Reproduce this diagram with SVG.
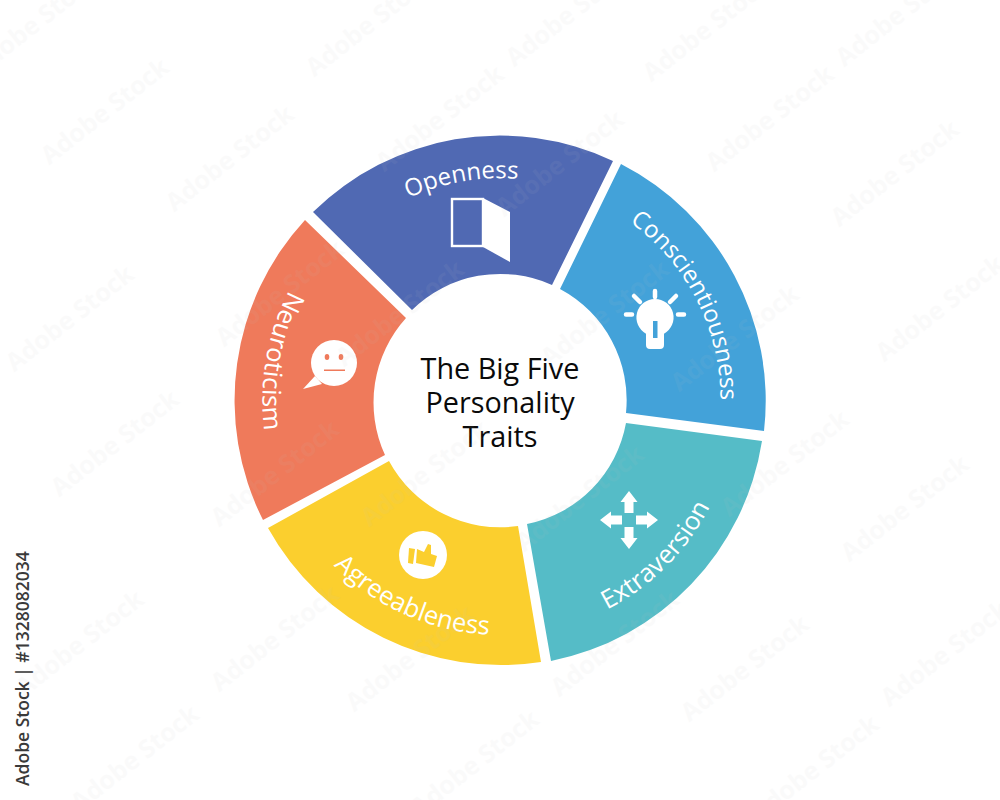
<svg xmlns="http://www.w3.org/2000/svg" xmlns:xlink="http://www.w3.org/1999/xlink" width="1000" height="800" viewBox="0 0 1000 800">
<style>
text{font-family:"Open Sans","Noto Sans","DejaVu Sans",sans-serif}
.lbl{font-size:24px;fill:#fff;text-anchor:middle}
.lb2{font-size:25.500px;fill:#fff;text-anchor:middle}
.ttl{font-size:28.800px;fill:#0a0a0a;text-anchor:middle}
.wm{font-size:25px;font-weight:700;fill:#c4c4c4;opacity:.07;text-anchor:middle}
.ray{stroke:#fff;stroke-width:4.5;stroke-linecap:round;fill:none}
</style>
<defs>
<path id="arcO" d="M292,324.1A222 222 0 0 1 670.5,257.3"/>
<path id="arcC" d="M512,180.3A220 220 0 0 1 685,519.8"/>
<path id="arcN" d="M419.1,176.3A238 238 0 0 0 347.5,582.3"/>
<path id="arcA" d="M266.8,424.6A235 235 0 0 0 638.6,590.1"/>
<path id="arcE" d="M439.7,627A235 235 0 0 0 727.5,339.2"/>
<path id="arr" d="M0,-29L8.500,-18H4.500V-7H-4.500V-18H-8.500Z" fill="#fff"/>
<text id="w" class="wm" transform="rotate(-38)">Adobe Stock</text>
</defs>
<rect width="1000" height="800" fill="#fff"/>
<g id="connectors"></g>
<g id="openness">
<path d="M313,212A266 266 0 0 1 613,161L552,285A126 126 0 0 0 412,310Z" fill="#5069b3"/>
<text class="lbl"><textPath href="#arcO" startOffset="50%">Openness</textPath></text>
<rect x="452" y="199" width="31" height="47" fill="none" stroke="#fff" stroke-width="2.400"/>
<path d="M483,198L510,212V262L483,247Z" fill="#fff"/>
</g>
<g id="conscientiousness">
<path d="M621,164A266 266 0 0 1 764,431L626,413A126 126 0 0 0 560,289Z" fill="#43a2d9"/>
<text class="lbl"><textPath href="#arcC" startOffset="50%">Conscientiousness</textPath></text>
<path d="M655,299a18.500,18.500 0 0 1 9,34.700v11.300a4,4 0 0 1 -4,4h-10a4,4 0 0 1 -4,-4v-11.300a18.500,18.500 0 0 1 9,-34.700Z" fill="#fff"/>
<rect x="653" y="321" width="4.500" height="17" fill="#43a2d9"/>
<path class="ray" d="M655,291V297M626,314.500H632M678,314.500H684M634,296L640,302M676,296L670,302"/>
</g>
<g id="extraversion">
<path d="M762,441A266 266 0 0 1 551,661L527,524A126 126 0 0 0 626,423Z" fill="#55bcc7"/>
<text class="lb2"><textPath href="#arcE" startOffset="50%">Extraversion</textPath></text>
<use href="#arr" transform="translate(629,520)"/>
<use href="#arr" transform="translate(629,520) rotate(90)"/>
<use href="#arr" transform="translate(629,520) rotate(180)"/>
<use href="#arr" transform="translate(629,520) rotate(270)"/>
</g>
<g id="agreeableness">
<path d="M541,662A266 266 0 0 1 268,528L389,461A126 126 0 0 0 518,526Z" fill="#fbcf2e"/>
<text class="lb2"><textPath href="#arcA" startOffset="50%">Agreeableness</textPath></text>
<circle cx="423" cy="555" r="24" fill="#fff"/>
<path d="M409,548L415,549L413,564L408,563Z" fill="#fbcf2e"/>
<path d="M417,549L424,552L428,544L431,545L431,554L437,556L434,567L416,563Z" fill="#fbcf2e"/>
</g>
<g id="neuroticism">
<path d="M263,520A266 266 0 0 1 305,220L406,318A126 126 0 0 0 385,455Z" fill="#ef7a5b"/>
<text class="lb2"><textPath href="#arcN" startOffset="50%">Neuroticism</textPath></text>
<circle cx="334" cy="363" r="23" fill="#fff"/>
<path d="M303,389L315,376L322,384Z" fill="#fff"/>
<ellipse cx="327" cy="357" rx="2.300" ry="3" fill="#ef7a5b"/>
<ellipse cx="341" cy="357" rx="2.300" ry="3" fill="#ef7a5b"/>
<rect x="324" y="369.500" width="21" height="1.500" fill="#ef7a5b"/>
</g>
<g id="center">
<circle cx="500.500" cy="400" r="124" fill="#fff"/>
<text class="ttl" x="500" y="379">The Big Five</text>
<text class="ttl" x="500" y="413">Personality</text>
<text class="ttl" x="500" y="447">Traits</text>
</g>
<g id="watermarks">
<use href="#w" transform="translate(40,30)"/>
<use href="#w" transform="translate(375,30)"/>
<use href="#w" transform="translate(575,20)"/>
<use href="#w" transform="translate(712,35)"/>
<use href="#w" transform="translate(905,20)"/>
<use href="#w" transform="translate(110,118)"/>
<use href="#w" transform="translate(235,165)"/>
<use href="#w" transform="translate(445,125)"/>
<use href="#w" transform="translate(565,170)"/>
<use href="#w" transform="translate(775,125)"/>
<use href="#w" transform="translate(900,180)"/>
<use href="#w" transform="translate(75,325)"/>
<use href="#w" transform="translate(285,300)"/>
<use href="#w" transform="translate(405,320)"/>
<use href="#w" transform="translate(610,320)"/>
<use href="#w" transform="translate(740,345)"/>
<use href="#w" transform="translate(945,315)"/>
<use href="#w" transform="translate(120,450)"/>
<use href="#w" transform="translate(280,480)"/>
<use href="#w" transform="translate(430,480)"/>
<use href="#w" transform="translate(585,505)"/>
<use href="#w" transform="translate(790,470)"/>
<use href="#w" transform="translate(910,515)"/>
<use href="#w" transform="translate(85,650)"/>
<use href="#w" transform="translate(280,645)"/>
<use href="#w" transform="translate(415,665)"/>
<use href="#w" transform="translate(620,650)"/>
<use href="#w" transform="translate(750,675)"/>
<use href="#w" transform="translate(950,660)"/>
<use href="#w" transform="translate(140,765)"/>
<use href="#w" transform="translate(480,770)"/>
<use href="#w" transform="translate(820,775)"/>
</g>
<text id="credit" transform="translate(29,786) rotate(-90)" font-size="17.500" font-weight="600" fill="#3a3a3a">Adobe Stock | #1328082034</text>
</svg>
